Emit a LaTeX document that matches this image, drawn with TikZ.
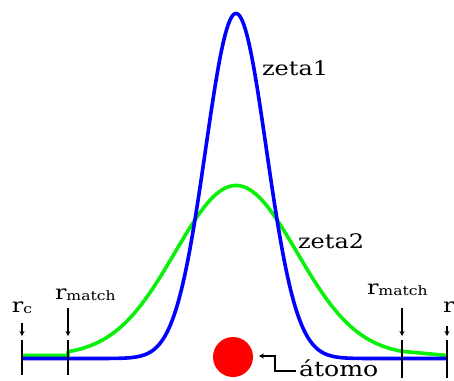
\documentclass[tikz,border=0pt]{standalone}
\usepackage{fontspec}
\setmainfont{DejaVu Serif}
\usetikzlibrary{arrows.meta}
\newfontfamily\labfont[FakeStretch=1.2]{DejaVu Serif}
\definecolor{cblue}{RGB}{0,0,255}
\definecolor{cgreen}{RGB}{10,240,10}
\definecolor{cred}{RGB}{255,0,0}
\newcommand\subtxt[1]{\raisebox{-1.5pt}{\fontsize{13}{13}\selectfont #1}}
\begin{document}
\begin{tikzpicture}[x=1pt,y=-1pt,
  lbl/.style={inner sep=0pt, outer sep=0pt, anchor=base west, font=\labfont\fontsize{20}{20}\selectfont},
  tickline/.style={line width=1.1pt, black},
  downarrow/.style={line width=1.1pt, -{Stealth[length=5pt,width=5pt]}},
  curve/.style={line width=3.6pt, line join=round}]
\useasboundingbox (0,0) rectangle (454,380);
\clip (0,0) rectangle (454,380);
% curves
\draw[curve, cgreen] (22,355.5) -- (68,355.5) -- plot[domain=68:402, samples=200] (\x,{355.5-170*exp(-0.5*((\x-236)/61)^2)}) -- (447,355.5);
\draw[curve, cblue] plot[domain=22:447, samples=300] (\x,{358.5-345*exp(-min(0.5*((\x-236)/30.4)^2,9))});
% vertical markers
\coordinate (vL1a) at (22,340); \coordinate (vL1b) at (22,375);
\coordinate (vL2a) at (68,340); \coordinate (vL2b) at (68,375);
\coordinate (vR2a) at (402,340); \coordinate (vR2b) at (402,378);
\coordinate (vR1a) at (447,340); \coordinate (vR1b) at (447,378);
\draw[tickline] (vL1a) -- (vL1b);
\draw[tickline] (vL2a) -- (vL2b);
\draw[tickline] (vR2a) -- (vR2b);
\draw[tickline] (vR1a) -- (vR1b);
% arrows
\coordinate (aL1a) at (22,323); \coordinate (aL1b) at (22,336);
\coordinate (aL2a) at (68,308); \coordinate (aL2b) at (68,336);
\coordinate (aR2a) at (402,308); \coordinate (aR2b) at (402,336);
\coordinate (aR1a) at (447,326); \coordinate (aR1b) at (447,336);
\draw[downarrow] (aL1a) -- (aL1b);
\draw[downarrow] (aL2a) -- (aL2b);
\draw[downarrow] (aR2a) -- (aR2b);
\draw[downarrow] (aR1a) -- (aR1b);
% labels
\node[lbl] (rcL) at (12,312) {r\subtxt{c}};
\node[lbl] (rmL) at (55,299) {r\subtxt{match}};
\node[lbl] (rmR) at (367,294) {r\subtxt{match}};
\node[lbl] (rcR) at (443,312) {r\subtxt{c}};
\node[lbl] (z1) at (262,75) {zeta1};
\node[lbl] (z2) at (298,248) {zeta2};
% atom
\node[circle, fill=cred, minimum size=40pt, inner sep=0pt] (atom) at (233,357) {};
\node[lbl, font=\labfont\fontsize{21}{21}\selectfont] (atomo) at (299,376) {átomo};
\coordinate (e1) at (296,371);
\coordinate (e2) at (275,371);
\coordinate (e3) at (275,356);
\coordinate (e4) at (259,356);
\draw[line width=1.1pt, -{Stealth[length=5pt,width=5pt]}] (e1) -- (e2) -- (e3) -- (e4);
\end{tikzpicture}
\end{document}
